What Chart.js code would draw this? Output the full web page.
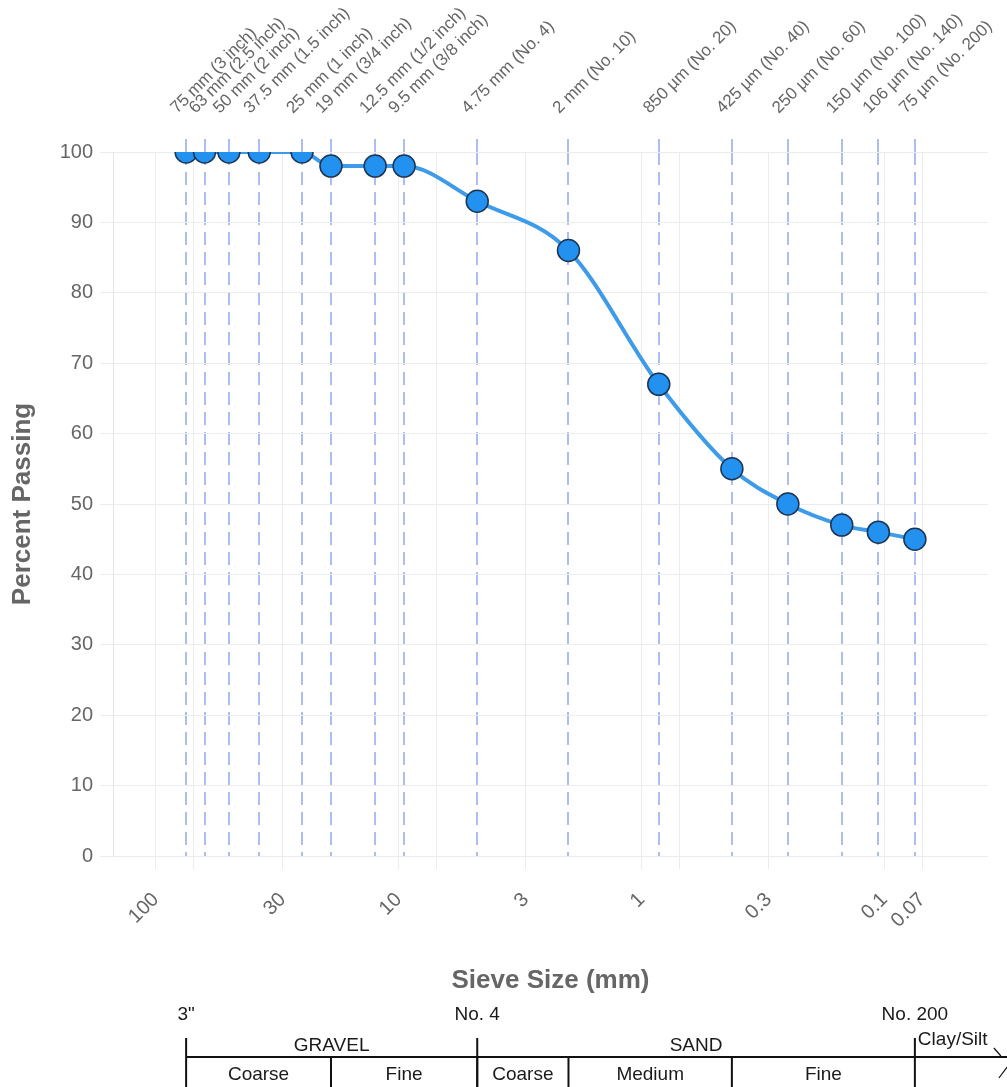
<!DOCTYPE html>
<html>
<head>
<meta charset="utf-8">
<script src="https://cdn.jsdelivr.net/npm/chart.js@4.4.1/dist/chart.umd.min.js"></script>
<style>
  body { margin: 0; background: #fff; }
  #wrap { width: 1007px; height: 1087px; position: relative; }
</style>
</head>
<body>
<div id="wrap"><canvas id="gradationChart"></canvas></div>
<script>
// sieve openings (mm) and their names
const sieveSizes = [75, 63, 50, 37.5, 25, 19, 12.5, 9.5, 4.75, 2, 0.85, 0.425, 0.25, 0.15, 0.106, 0.075];
const sieveNames = [
    "75 mm (3 inch)", "63 mm (2.5 inch)", "50 mm (2 inch)", "37.5 mm (1.5 inch)",
    "25 mm (1 inch)", "19 mm (3/4 inch)", "12.5 mm (1/2 inch)", "9.5 mm (3/8 inch)",
    "4.75 mm (No. 4)", "2 mm (No. 10)", "850 µm (No. 20)", "425 µm (No. 40)",
    "250 µm (No. 60)", "150 µm (No. 100)", "106 µm (No. 140)", "75 µm (No. 200)"
];
const percentPassing = [100, 100, 100, 100, 100, 98, 98, 98, 93, 86, 67, 55, 50, 47, 46, 45];

// bottom axis ticks
const sizeTicks = [100, 70, 30, 10, 7, 3, 1, 0.7, 0.3, 0.1, 0.07];
const sizeTickLabels = ["100", "", "30", "10", "", "3", "1", "", "0.3", "0.1", "0.07"];

// soil classification strip under the chart
const stripMarks = [75, 4.75, 0.075];
const stripMarkLabels = ['3"', "No. 4", "No. 200"];
const stripGroupBounds = [75, 4.75, 0.075];
const stripGroupLabels = ["GRAVEL", "SAND"];
const stripSubBounds = [75, 19, 4.75, 2, 0.425, 0.075];
const stripSubLabels = ["Coarse", "Fine", "Coarse", "Medium", "Fine"];

const xMin = 0.0375;
const xMax = 150;

const gray = "#666";
const gridColor = "#ececec";
const stripFont = "19px Arial, 'Liberation Sans', sans-serif";

// fixed box sizes so the plot area lands where the original one is
const fixBox = (size, isWidth) => (scale) => {
    if (isWidth) scale.width = size; else scale.height = size;
    scale.paddingLeft = 0;
    scale.paddingRight = 0;
    scale.paddingTop = 0;
    scale.paddingBottom = 0;
};

const soilStrip = {
    id: "soilStrip",
    afterDraw: (chart) => {
        const ctx = chart.ctx;
        const xs = chart.scales.x;
        const px = (v) => xs.getPixelForValue(v);
        const lineY = 1057;

        ctx.save();
        ctx.strokeStyle = "#111";
        ctx.lineWidth = 2;
        ctx.fillStyle = "#1a1a1a";
        ctx.font = stripFont;
        ctx.textAlign = "center";
        ctx.textBaseline = "middle";

        // main horizontal line
        ctx.beginPath();
        ctx.moveTo(px(stripMarks[0]), lineY);
        ctx.lineTo(chart.width, lineY);
        ctx.stroke();

        // major boundaries
        stripMarks.forEach((v, i) => {
            const x = px(v);
            ctx.beginPath();
            ctx.moveTo(x, 1038);
            ctx.lineTo(x, chart.height);
            ctx.stroke();
            ctx.fillText(stripMarkLabels[i], x, 1015);
        });

        // minor boundaries
        stripSubBounds.slice(1, -1).forEach((v) => {
            const x = px(v);
            ctx.beginPath();
            ctx.moveTo(x, lineY);
            ctx.lineTo(x, chart.height);
            ctx.stroke();
        });

        stripGroupLabels.forEach((lbl, i) => {
            const x = (px(stripGroupBounds[i]) + px(stripGroupBounds[i + 1])) / 2;
            ctx.fillText(lbl, x, 1046);
        });

        stripSubLabels.forEach((lbl, i) => {
            const x = (px(stripSubBounds[i]) + px(stripSubBounds[i + 1])) / 2;
            ctx.fillText(lbl, x, 1075);
        });

        // clay / silt with break mark
        const xEnd = px(stripMarks[2]);
        ctx.textAlign = "left";
        ctx.fillText("Clay/Silt", xEnd + 3, 1040);
        ctx.lineWidth = 1.2;
        ctx.beginPath();
        ctx.moveTo(xEnd + 79, 1048);
        ctx.lineTo(xEnd + 86, 1056);
        ctx.moveTo(xEnd + 84, 1078);
        ctx.lineTo(xEnd + 93, 1066);
        ctx.stroke();
        ctx.restore();
    }
};

const initChart = () => {
    const ctx = document.getElementById("gradationChart").getContext("2d");

    new Chart(ctx, {
        type: "line",
        data: {
            datasets: [{
                label: "Percent Passing",
                data: sieveSizes.map((s, i) => ({ x: s, y: percentPassing[i] })),
                borderColor: "#3d9be9",
                borderWidth: 4,
                cubicInterpolationMode: "monotone",
                pointRadius: 11,
                pointHoverRadius: 11,
                pointBackgroundColor: "#2391f0",
                pointBorderColor: "#1d3553",
                pointBorderWidth: 1.5,
                xAxisID: "x",
                yAxisID: "y"
            }]
        },
        options: {
            responsive: true,
            maintainAspectRatio: false,
            animation: false,
            layout: {
                padding: { left: 0, right: 19, top: 0, bottom: 0 }
            },
            plugins: {
                legend: { display: false },
                tooltip: { enabled: false }
            },
            scales: {
                x: {
                    type: "logarithmic",
                    position: "bottom",
                    reverse: true,
                    min: xMin,
                    max: xMax,
                    afterBuildTicks: (scale) => {
                        scale.ticks = sizeTicks.map(v => ({ value: v }));
                    },
                    afterFit: fixBox(231, false),
                    ticks: {
                        autoSkip: false,
                        minRotation: 45,
                        maxRotation: 45,
                        padding: 19,
                        color: gray,
                        font: { size: 20 },
                        callback: (value) => sizeTickLabels[sizeTicks.indexOf(value)]
                    },
                    grid: {
                        color: gridColor,
                        tickLength: 13
                    },
                    border: { display: false },
                    title: {
                        display: true,
                        text: "Sieve Size (mm)",
                        color: gray,
                        font: { size: 26, weight: "bold" },
                        padding: { top: 4, bottom: 91 }
                    }
                },
                xTop: {
                    type: "logarithmic",
                    position: "top",
                    reverse: true,
                    min: xMin,
                    max: xMax,
                    afterBuildTicks: (scale) => {
                        scale.ticks = sieveSizes.map(v => ({ value: v }));
                    },
                    afterFit: fixBox(152, false),
                    ticks: {
                        autoSkip: false,
                        minRotation: 45,
                        maxRotation: 45,
                        padding: 21,
                        labelOffset: 2,
                        color: gray,
                        font: { size: 17 },
                        callback: (value) => sieveNames[sieveSizes.indexOf(value)]
                    },
                    grid: {
                        color: "rgba(120, 145, 230, 0.6)",
                        lineWidth: 2,
                        tickLength: 13,
                        tickBorderDash: []
                    },
                    border: { display: false, dash: [13, 7] }
                },
                y: {
                    min: 0,
                    max: 100,
                    afterFit: fixBox(113, true),
                    ticks: {
                        stepSize: 10,
                        padding: 7,
                        color: gray,
                        font: { size: 20 }
                    },
                    grid: {
                        color: gridColor,
                        tickLength: 13
                    },
                    border: { color: "#e4e4e4" },
                    title: {
                        display: true,
                        text: "Percent Passing",
                        color: gray,
                        font: { size: 26, weight: "bold" },
                        padding: { top: 7, bottom: 0 }
                    }
                }
            }
        },
        plugins: [soilStrip]
    });
};

window.addEventListener("load", () => {
    initChart();
});
</script>
</body>
</html>
